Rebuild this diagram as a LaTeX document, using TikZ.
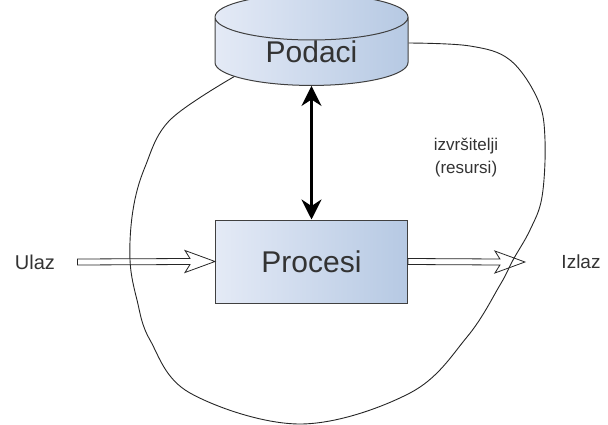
\documentclass[tikz,border=0pt]{standalone}
\usepackage{fontspec}
\setmainfont{Liberation Sans}
\usepackage{tikz}
\usetikzlibrary{arrows.meta}
\usetikzlibrary{calc}
\usetikzlibrary{shapes.geometric}
\definecolor{plavaL}{RGB}{228,234,246}
\definecolor{plavaD}{RGB}{182,201,227}

\begin{document}
\begin{tikzpicture}[x=1pt, y=-1pt,
        every node/.style={text=black!80},
        blok/.style={draw=black!75, line width=1pt, left color=plavaL, right color=plavaD},
        tok/.style={draw=black!85, line width=0.8pt, fill=white, line join=miter},
        veza/.style={line width=3pt, {Stealth[length=20pt, width=20pt]}-{Stealth[length=20pt, width=20pt]}}]
    \useasboundingbox (0,0) rectangle (608,425);
    \node[blok, cylinder, shape border rotate=90, aspect=0.5, minimum width=193pt, minimum height=78pt, inner sep=0pt, font=\fontsize{30}{30}\selectfont] (Podaci) at (311.5,51.5) {Podaci};
    \node[blok, minimum width=192pt, minimum height=83pt, font=\fontsize{30}{30}\selectfont] (Procesi) at (311.5,261.5) {Procesi};
    \node[font=\fontsize{20}{24}\selectfont] (Ulaz) at (35,262) {Ulaz};
    \node[font=\fontsize{19}{24}\selectfont] (Izlaz) at (581,262) {Izlaz};
    \node[font=\fontsize{17}{23}\selectfont, align=center] (Izvrsitelji) at (466,158) {izvršitelji\\(resursi)};
    \draw[veza] (Podaci.south) -- (Procesi.north);
    % ulaz
    \draw[tok] ($(Ulaz.east)+(19,-3)$) -- ($(Procesi.west)+(-25,-3)$) -- ($(Procesi.west)+(-30,-11)$) -- (Procesi.west)
        -- ($(Procesi.west)+(-30,11)$) -- ($(Procesi.west)+(-25,3)$) -- ($(Ulaz.east)+(19,3)$) -- cycle;
    % izlaz
    \draw[tok] ($(Procesi.east)+(0,-3)$) -- ($(Izlaz.west)+(-58,-3)$) -- ($(Izlaz.west)+(-63,-11)$) -- ($(Izlaz.west)+(-33,0)$)
        -- ($(Izlaz.west)+(-63,11)$) -- ($(Izlaz.west)+(-58,3)$) -- ($(Procesi.east)+(0,3)$) -- cycle;
    % granica izvrsitelja
    \draw[line width=0.9pt, black!85] plot[smooth, tension=0.6] coordinates {(Podaci.198) (170,120) (145,167) (133,210) (130,260) (137,300) (150,340) (190,393) (300,424) (410,393) (467,337) (500,285) (513,260) (530,230) (542,197) (545,140) (538,100) (510,60) (470,46) (Podaci.5)};
\end{tikzpicture}
\end{document}
